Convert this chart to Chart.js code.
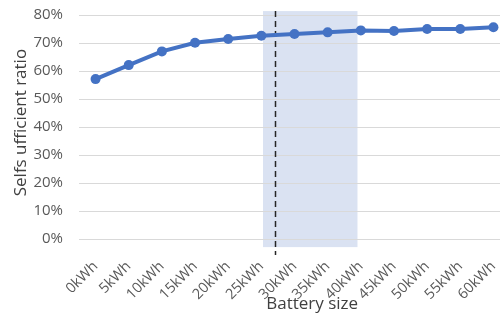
<!DOCTYPE html>
<html>
<head>
<meta charset="utf-8">
<script src="https://cdn.jsdelivr.net/npm/chart.js@4"></script>
<style>
html,body{margin:0;padding:0;background:#fff;overflow:hidden;}
#wrap{width:510px;height:318px;position:relative;}
</style>
</head>
<body>
<div id="wrap"><canvas id="c" width="510" height="318"></canvas></div>
<script>
const categories = ['0kWh','5kWh','10kWh','15kWh','20kWh','25kWh','30kWh','35kWh','40kWh','45kWh','50kWh','55kWh','60kWh'];
const ratioValues = [0.571, 0.621, 0.670, 0.701, 0.714, 0.726, 0.732, 0.738, 0.745, 0.743, 0.750, 0.750, 0.756];
const yTickValues = [0, 0.1, 0.2, 0.3, 0.4, 0.5, 0.6, 0.7, 0.8];
// highlighted range (category index units) and marker position
const bandRange = [5.05, 7.9];
const bandValueRange = [-0.029, 0.814];
const markerIndex = 5.42;
const markerValueRange = [-0.057, 0.814];

const FONT = "'Open Sans', 'Noto Sans', sans-serif";

const overlay = {
  id: 'overlay',
  beforeDraw(chart) {
    const {ctx, scales:{x, y}} = chart;
    const x0 = x.getPixelForValue(bandRange[0]);
    const x1 = x.getPixelForValue(bandRange[1]);
    const y0 = y.getPixelForValue(bandValueRange[1]);
    const y1 = y.getPixelForValue(bandValueRange[0]);
    ctx.save();
    ctx.fillStyle = '#dae2f2';
    ctx.fillRect(x0, y0, x1 - x0, y1 - y0);
    ctx.restore();
  },
  beforeDatasetsDraw(chart) {
    const {ctx, scales:{x, y}} = chart;
    const mx = Math.round(x.getPixelForValue(markerIndex)) + 0.5;
    ctx.save();
    ctx.strokeStyle = '#262626';
    ctx.lineWidth = 1.5;
    ctx.setLineDash([6, 4]);
    ctx.beginPath();
    ctx.moveTo(mx, y.getPixelForValue(markerValueRange[1]));
    ctx.lineTo(mx, y.getPixelForValue(markerValueRange[0]));
    ctx.stroke();
    ctx.restore();
  }
};

new Chart(document.getElementById('c'), {
  type: 'line',
  data: {
    labels: categories,
    datasets: [{
      data: ratioValues,
      borderColor: '#4472c4',
      backgroundColor: '#4472c4',
      borderWidth: 4,
      pointRadius: 5,
      pointBorderWidth: 0,
      pointBackgroundColor: '#4472c4',
      tension: 0,
      clip: false
    }]
  },
  options: {
    responsive: false,
    animation: false,
    layout: {autoPadding: false, padding: {top: 15, left: 0, right: 0, bottom: 4}},
    plugins: {legend: {display: false}, tooltip: {enabled: false}},
    scales: {
      x: {
        offset: true,
        afterFit(scale) { scale.height = 75; scale.paddingLeft = 0; scale.paddingRight = 0; },
        grid: {display: false, drawTicks: false},
        border: {display: false},
        ticks: {
          color: '#595959', font: {family: FONT, size: 14.5},
          maxRotation: 45, minRotation: 45, padding: 19, autoSkip: false
        },
        title: {
          display: true, text: '        Battery size', color: '#404040',
          font: {family: FONT, size: 17}, padding: {top: 0, bottom: 0}
        }
      },
      y: {
        min: 0, max: 0.8,
        afterBuildTicks(scale) { scale.ticks = yTickValues.map(v => ({value: v})); },
        afterFit(scale) { scale.width = 79; scale.paddingTop = 0; scale.paddingBottom = 0; },
        grid: {color: '#d9d9d9', lineWidth: 1, drawTicks: false},
        border: {display: false},
        ticks: {
          color: '#595959', font: {family: FONT, size: 15}, padding: 16,
          callback: v => Math.round(v * 100) + '%'
        },
        title: {
          display: true, text: '  Selfs ufficient ratio', color: '#404040',
          font: {family: FONT, size: 17}, padding: {top: 11, bottom: 0}
        }
      }
    }
  },
  plugins: [overlay]
});
</script>
</body>
</html>
